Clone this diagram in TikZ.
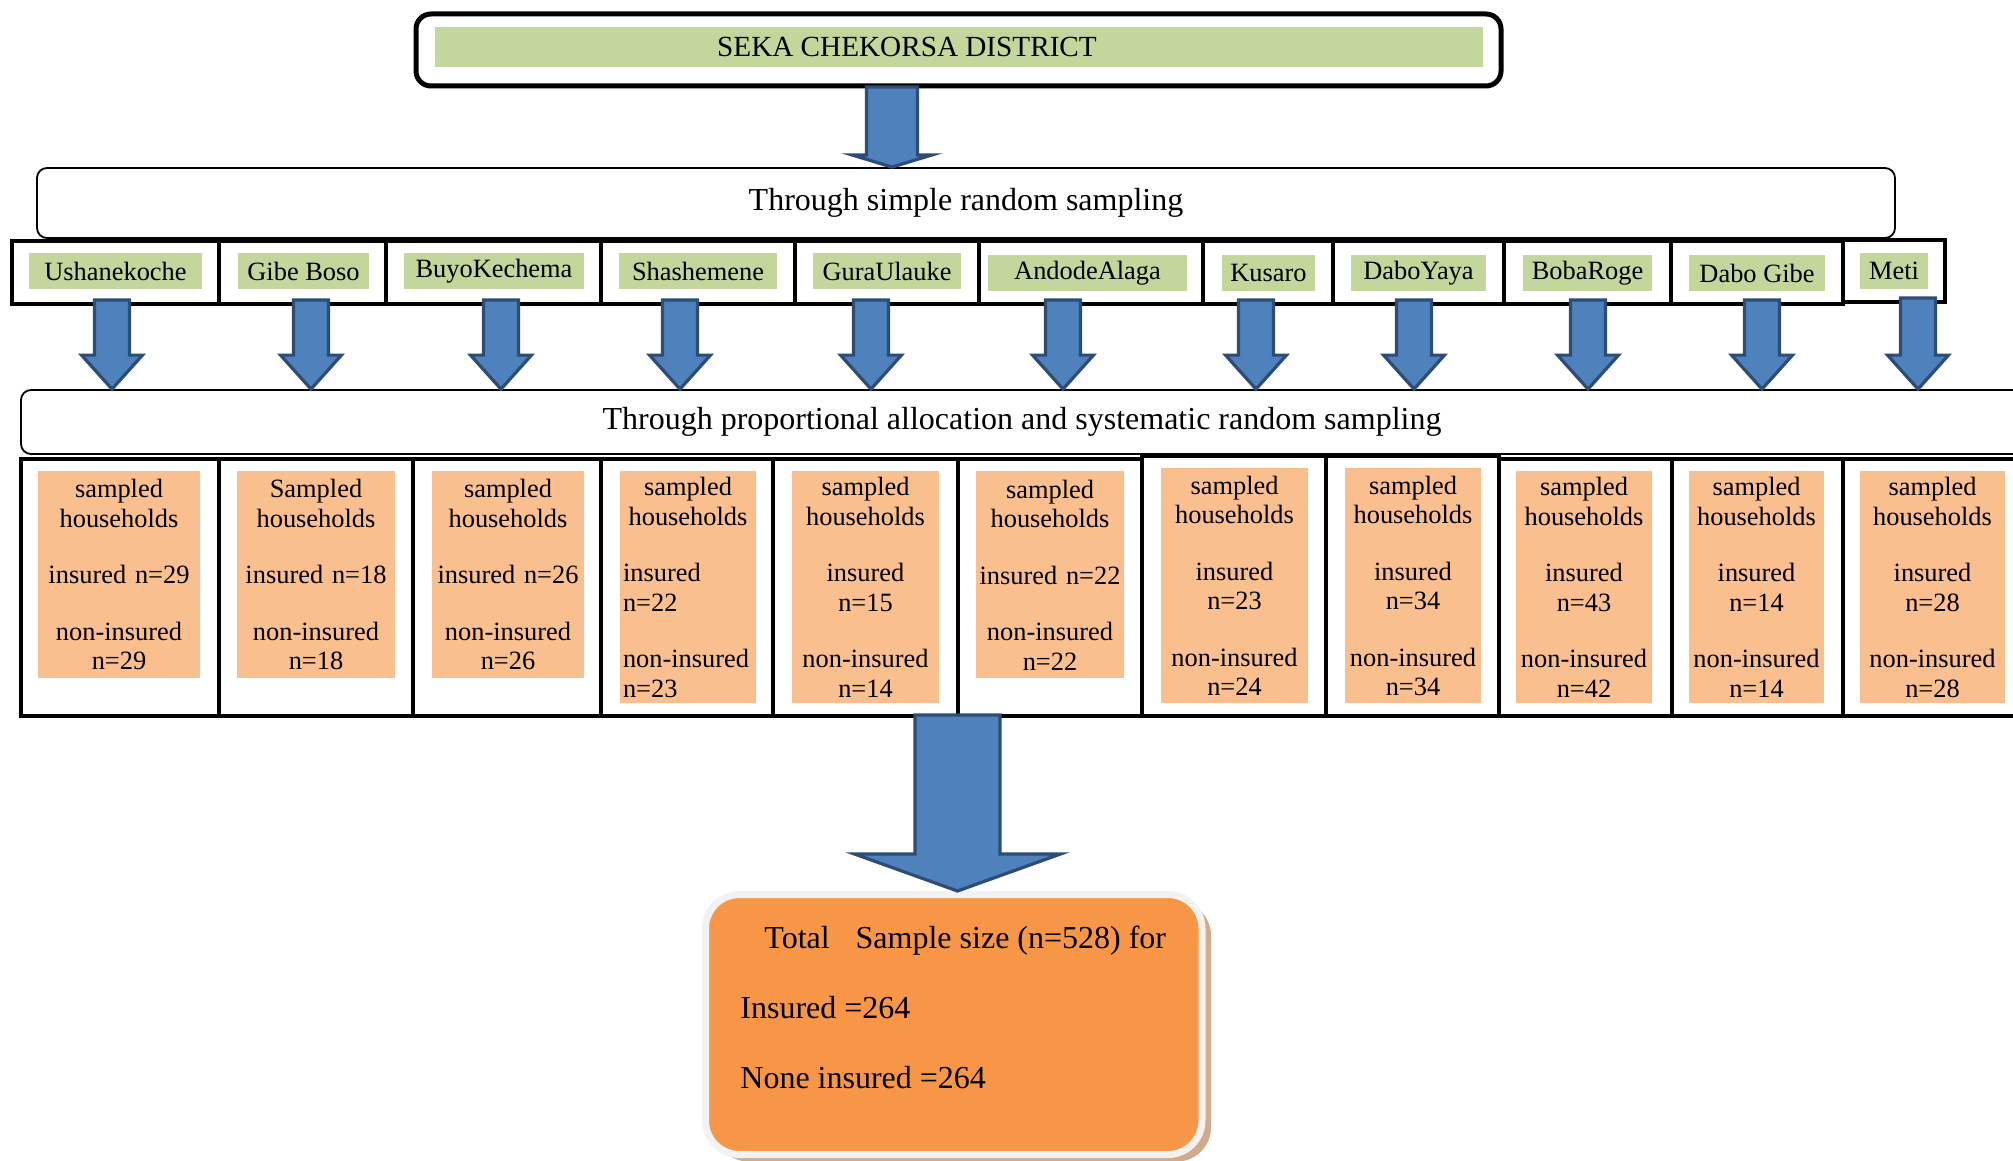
\documentclass[tikz,border=0pt]{standalone}
\usepackage{fontspec}
\setmainfont{Liberation Serif}
\usetikzlibrary{fit,calc,shadows}

\definecolor{labgreen}{HTML}{C3D69B}
\definecolor{laborange}{HTML}{F9BF8F}
\definecolor{totorange}{HTML}{F79646}
\definecolor{arrowblue}{HTML}{4F81BD}
\definecolor{arrowedge}{HTML}{2C4D75}
\definecolor{rimgray}{HTML}{F2F2F2}
\definecolor{shadowtan}{HTML}{D2AA8C}

\tikzset{
  cell/.style={draw,line width=2pt,inner sep=0pt},
  stage/.style={draw,line width=0.9pt,rounded corners=5pt,inner sep=0pt,font=\fontsize{16}{19}\selectfont},
  greenlab/.style={fill=labgreen,inner sep=0pt,minimum height=18pt,font=\fontsize{13.2}{15}\selectfont},
  orangelab/.style={fill=laborange,inner xsep=1.5pt,inner ysep=3pt,anchor=north,align=center,font=\fontsize{13.2}{14.75}\selectfont},
  fatarrow/.style={fill=arrowblue,draw=arrowedge,line width=1.6pt},
}

\newcommand{\hhtext}[3]{#1\\households\\[13.5pt]#2\\[13.5pt]non-insured\\#3}
\newcommand{\insA}[1]{insured n=#1}
\newcommand{\insB}[1]{insured\\n=#1}
\newcommand{\midline}[1]{\leavevmode\hbox to\hsize{\hss #1\hss}}
%% block arrow: x, from node, to node, half shaft, half head, head length, overlap
\newcommand{\fatarrow}[7]{%
  \draw[fatarrow] ($(#1-#4,0 |- #2.south)+(0,-#7)$) -- ($(#1+#4,0 |- #2.south)+(0,-#7)$)
    -- ($(#1+#4,0 |- #3.north)+(0,-#6)$) -- ($(#1+#5,0 |- #3.north)+(0,-#6)$)
    -- (#1,0 |- #3.north)
    -- ($(#1-#5,0 |- #3.north)+(0,-#6)$) -- ($(#1-#4,0 |- #3.north)+(0,-#6)$) -- cycle;}

\begin{document}
\begin{tikzpicture}[x=0.5pt,y=-0.5pt]
  \useasboundingbox (0,0) rectangle (2013,1161);
  %% district
  \node[draw,line width=2.5pt,rounded corners=7.5pt,inner sep=0pt,fit={(416,14) (1501,86)}] (district) {};
  \node[fill=labgreen,minimum width=524pt,minimum height=20pt,inner sep=0pt,font=\fontsize{14.6}{17}\selectfont]
    (distlab) at (959,47) {SEKA CHEKORSA DISTRICT\kern52pt};
  %% stages
  \node[stage,minimum width=929pt,minimum height=35pt] (simple) at (966,203) {Through simple random sampling};
  \node[stage,minimum width=1001pt,minimum height=32pt] (prop) at (1022,422) {Through proportional allocation and systematic random sampling};
  %% kebeles
  \foreach \i/\xa/\xb in {1/12/219,2/219/386,3/386/601,4/601/795,5/795/979,6/979/1203,7/1203/1333,8/1333/1504,9/1504/1671,10/1671/1843}
    \node[cell,fit={(\xa,241) (\xb,304)}] (v\i) {};
  \node[cell,fit={(1843,240) (1945,302)}] (v11) {};
  \foreach \i/\cx/\cy/\w/\lab in {1/115.5/271/173/Ushanekoche,2/303.5/271/131/Gibe Boso,3/494/271/180/BuyoKechema,
      4/698/271/158/Shashemene,5/887/271/148/GuraUlauke,6/1087.5/273/199/AndodeAlaga,7/1268.5/273/93/Kusaro,
      8/1418.5/273/135/DaboYaya,9/1587.5/273/129/BobaRoge,10/1757/273/136/Dabo Gibe,11/1894/271/68/Meti}
    \node[greenlab,minimum width={\w*0.5pt}] (l\i) at (\cx,\cy) {\lab};
  %% samples
  \foreach \i/\xa/\xb/\yt in {1/20.5/219/458.5,2/219/413/458.5,3/413/601/458.5,4/601/773/458.5,5/773/958/458.5,
      6/958/1142/458.5,7/1142/1326/456,8/1326/1499/456,9/1499/1672/458.5,10/1672/1843/458.5,11/1843/2040/458.5}
    \node[cell,fit={(\xa,\yt) (\xb,715.5)}] (c\i) {};
  \foreach \i/\cx/\tw/\yt/\h/\first/\ins/\non in {1/119/78/471/207/sampled/\insA{29}/29,2/316/76/471/207/Sampled/\insA{18}/18,
      3/508/73/471/207/sampled/\insA{26}/26,5/865.5/70.5/471/232/sampled/\insB{15}/14,6/1050/71/471/207/sampled/\insA{22}/22,
      7/1234.5/70.5/468/235/sampled/\insB{23}/24,8/1413/65/468/235/sampled/\insB{34}/34,9/1584/65/471/232/sampled/\insB{43}/42,
      10/1756.5/64.5/471/232/sampled/\insB{14}/14,11/1932.5/69.5/471/232/sampled/\insB{28}/28}
    \node[orangelab,text width=\tw pt,minimum height={\h*0.5pt}] (o\i) at (\cx,\yt) {\hhtext{\first}{\ins}{n=\non}};
  \node[orangelab,align=left,text width=65pt,minimum height=116pt] (o4) at (688,471)
    {\midline{sampled}\\\midline{households}\\[13.5pt]insured\\n=22\\[13.5pt]non-insured\\n=23};
  %% total
  \node[draw=rimgray,line width=3.5pt,fill=totorange,rounded corners=17pt,inner sep=0pt,
    drop shadow={shadow xshift=4.5pt,shadow yshift=-3.5pt,fill=shadowtan,opacity=1},
    fit={(705.5,894.5) (1202,1154.5)}] (total) {};
  \node[anchor=north west,inner sep=0pt,align=left,font=\fontsize{16}{35}\selectfont] (totaltxt) at (740,926)
    {\hspace*{12pt}Total\hspace{9pt} Sample size (n=528) for\\Insured =264\\None insured =264};
  %% arrows
  \fatarrow{892}{district}{simple}{25.5}{39.5}{12}{1.5}
  \foreach \i/\x in {1/112,2/311,3/501,4/680,5/871,6/1063,7/1256,8/1414,9/1588,10/1762,11/1918}
    {\fatarrow{\x}{v\i}{prop}{17.5}{30.5}{34}{6}}
  \fatarrow{957.5}{c5}{total}{42.5}{103}{37}{2.5}
\end{tikzpicture}
\end{document}
